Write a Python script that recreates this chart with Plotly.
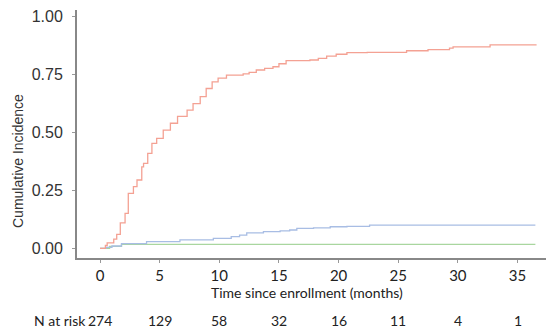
import plotly.graph_objects as go

# Data
red_t = [0, 0.45, 0.6, 1.15, 1.4, 1.7, 2.1, 2.37, 2.8, 3.1, 3.5, 3.65, 4.0, 4.35, 4.75, 5.3, 5.9, 6.5, 7.3,
         7.8, 8.4, 8.9, 9.4, 9.9, 10.6, 12.0, 12.5, 13.1, 13.8, 14.5, 15.0, 15.6, 17.6, 18.3, 19.0, 19.8,
         20.7, 22.4, 25.7, 27.5, 29.3, 29.6, 32.7, 36.6]
red_v = [0, 0.012, 0.023, 0.04, 0.06, 0.11, 0.151, 0.237, 0.266, 0.295, 0.352, 0.367, 0.41, 0.453, 0.475,
         0.51, 0.54, 0.57, 0.597, 0.625, 0.655, 0.69, 0.719, 0.735, 0.748, 0.753, 0.76, 0.77, 0.777, 0.784,
         0.797, 0.81, 0.813, 0.82, 0.83, 0.838, 0.845, 0.846, 0.853, 0.858, 0.864, 0.87, 0.878, 0.878]

blue_t = [0, 0.5, 1.0, 1.8, 3.9, 6.7, 9.5, 11.0, 11.7, 12.3, 13.7, 15.1, 15.9, 16.5, 17.9, 19.3, 20.7,
          22.6, 36.5]
blue_v = [0, 0.004, 0.01, 0.02, 0.029, 0.036, 0.043, 0.05, 0.057, 0.067, 0.072, 0.075, 0.079, 0.086,
          0.088, 0.093, 0.095, 0.10, 0.10]

green_t = [0, 0.8, 1.8, 36.5]
green_v = [0, 0.008, 0.017, 0.017]

x_ticks = [0, 5, 10, 15, 20, 25, 30, 35]
y_ticks = [0, 0.25, 0.5, 0.75, 1.0]
y_tick_labels = ["0.00", "0.25", "0.50", "0.75", "1.00"]
risk_times = [0, 5, 10, 15, 20, 25, 30, 35]
n_at_risk = [274, 129, 58, 32, 16, 11, 4, 1]

OFF = 8  # page body margin
W, H = 554 - OFF, 333 - OFF
L, R, T, B = 77 - OFF, 0, 10 - OFF, 75
PW, PH = W - L - R, H - T - B


def px_x(px):
    return (px - OFF - L) / PW


def px_y(py):
    return (H - B - (py - OFF)) / PH


fig = go.Figure()
for t, v, c in [(green_t, green_v, "#A9D69F"), (blue_t, blue_v, "#A8BDE4"), (red_t, red_v, "#F4A193")]:
    fig.add_trace(go.Scatter(x=t, y=v, mode="lines", line=dict(color=c, width=1.3, shape="hv"),
                             showlegend=False, hoverinfo="skip"))

for t, n in zip(risk_times, n_at_risk):
    fig.add_annotation(x=t, y=px_y(320), xref="x", yref="paper", yanchor="middle", xanchor="center",
                       text=str(n), showarrow=False, font=dict(family="Lato", size=14, color="#222"))
fig.add_annotation(x=px_x(32), y=px_y(320), xref="paper", yref="paper", yanchor="middle", xanchor="left",
                   text="N at risk", showarrow=False, font=dict(family="Lato", size=14, color="#222"))

fig.add_annotation(x=px_x(307), y=px_y(292.5), xref="paper", yref="paper", yanchor="middle", xanchor="center",
                   text="Time since enrollment (months)", showarrow=False,
                   font=dict(family="Lato", size=14, color="#222"))

fig.add_annotation(x=px_x(18), y=px_y(161), xref="paper", yref="paper", text="Cumulative Incidence",
                   xanchor="center", yanchor="middle",
                   textangle=-90, showarrow=False, font=dict(family="Liberation Sans", size=14, color="#333"))

fig.update_layout(
    width=W, height=H,
    margin=dict(l=L, r=R, t=T, b=B),
    paper_bgcolor="white", plot_bgcolor="white",
    xaxis=dict(range=[-1.93, 38.06], tickvals=x_ticks, ticks="outside", ticklen=3, tickcolor="#999",
               showline=True, linecolor="#888", linewidth=2, showgrid=False, zeroline=False, automargin=False,
               tickfont=dict(family="Lato", size=15, color="#222"), ticklabelstandoff=0),
    yaxis=dict(range=[-0.0419, 1.029], tickvals=y_ticks, ticktext=y_tick_labels, ticks="outside", ticklen=3,
               tickcolor="#999", showline=True, linecolor="#888", linewidth=2, showgrid=False, zeroline=False,
               automargin=False,
               tickfont=dict(family="Liberation Sans", size=16, color="#333"), ticklabelstandoff=6),
)

fig.write_html("out.html")
